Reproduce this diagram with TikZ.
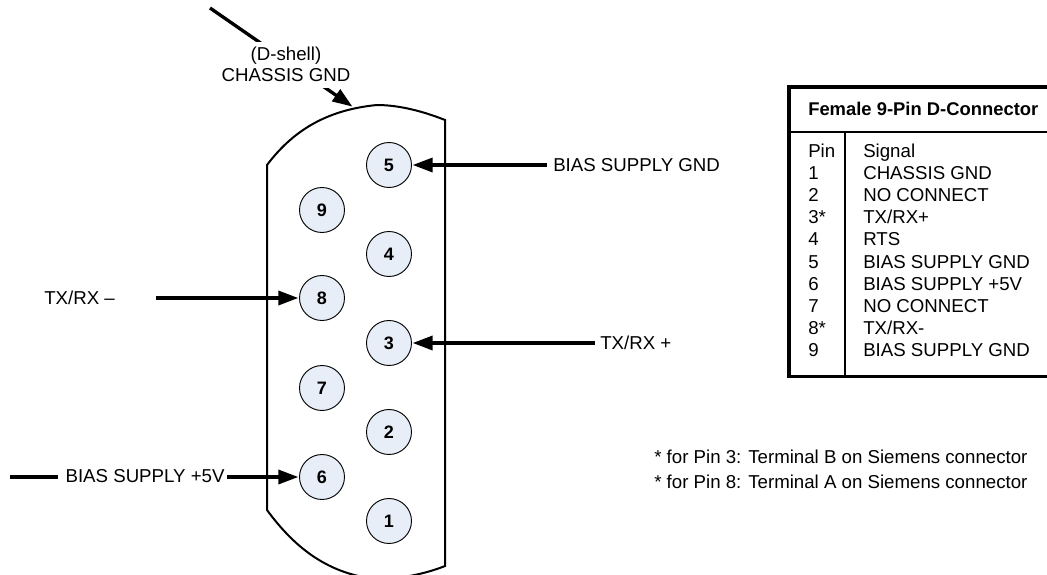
\documentclass[tikz,border=0pt]{standalone}
\usepackage{fontspec}
\setmainfont{Liberation Sans}
\usetikzlibrary{arrows.meta}
\definecolor{pinfill}{RGB}{232,238,247}
\tikzset{
  pinnode/.style={circle,draw=black,line width=0.7pt,fill=pinfill,minimum size=33.75pt,inner sep=0pt,font=\fontsize{13.5}{15}\selectfont\bfseries},
  lbl/.style={font=\fontsize{14}{16}\selectfont,inner sep=0pt,text=black},
  wire/.style={line width=2.5pt,-{Triangle[length=15pt,width=10.5pt]},shorten >=0.5pt},
  shell/.style={line width=1.5pt,draw=black},
}
\begin{document}
\begin{tikzpicture}[x=0.75pt,y=-0.75pt]
\useasboundingbox (0,0) rectangle (1047,575);
\begin{scope}
\clip (0,0) rectangle (1047,575);
% shell
\draw[shell] (267,165) .. controls (292,132) and (325,110) .. (377,105)
  .. controls (400,105) and (425,112) .. (445,120) -- (445,566)
  .. controls (425,574) and (400,579) .. (377,579)
  .. controls (325,574) and (292,544) .. (267,510) -- cycle;
% table
\draw[line width=2.8pt] (1050,87) -- (789,87) -- (789,376.5) -- (1050,376.5);
\draw[line width=1.5pt] (789,132) -- (1050,132);
\draw[line width=1.5pt] (845,132) -- (845,376);
\end{scope}
% pins
\foreach \n/\x/\y in {5/389/165,9/322/210,4/389/254,8/322/298,3/389/343,7/322/388,2/389/432,6/322/477,1/389/521}
  \node[pinnode] (p\n) at (\x,\y) {\n};
% free ends
\coordinate (cg) at (210,8);
\coordinate (shelltop) at (353,107);
\coordinate (w5) at (547,165);
\coordinate (w3) at (595,343);
\coordinate (w8) at (156,298);
\coordinate (w6) at (10,477);
% connectors
\draw[wire] (cg) -- (shelltop);
\draw[wire] (w5) -- (p5);
\draw[wire] (w3) -- (p3);
\draw[wire] (w8) -- (p8);
\draw[wire] (w6) -- (p6);
% labels
\node[lbl,fill=white,align=center,minimum height=34.5pt,minimum width=96pt,anchor=center] (lcg) at (286,64.5) {(D-shell)\\[0pt]CHASSIS GND};
\node[lbl,anchor=west] (l5) at (553,165) {BIAS SUPPLY GND};
\node[lbl,anchor=west] (l3) at (600,343) {TX/RX +};
\node[lbl,anchor=west] (l8) at (44,298) {TX/RX –};
\node[lbl,anchor=west,fill=white,inner xsep=1.5pt,inner ysep=2pt] (l6) at (58,476) {\hspace*{4pt}BIAS SUPPLY +5V};
% table text
\node[lbl,anchor=base west,font=\fontsize{13.8}{16}\selectfont\bfseries] (title) at (808,115) {Female 9-Pin D-Connector};
\foreach \i/\p/\s in {0/Pin/Signal,1/1/CHASSIS GND,2/2/NO CONNECT,3/3*/{TX/RX+},4/4/RTS,5/5/BIAS SUPPLY GND,6/6/BIAS SUPPLY +5V,7/7/NO CONNECT,8/8*/{TX/RX-},9/9/BIAS SUPPLY GND}{
  \node[lbl,anchor=base west] (tp\i) at (808,157+22.2*\i) {\p};
  \node[lbl,anchor=base west] (ts\i) at (863,157+22.2*\i) {\s};
}
% notes
\node[lbl,anchor=base west] (n1) at (654,463) {* for Pin 3: Terminal B on Siemens connector};
\node[lbl,anchor=base west] (n2) at (654,488) {* for Pin 8: Terminal A on Siemens connector};
\end{tikzpicture}
\end{document}
